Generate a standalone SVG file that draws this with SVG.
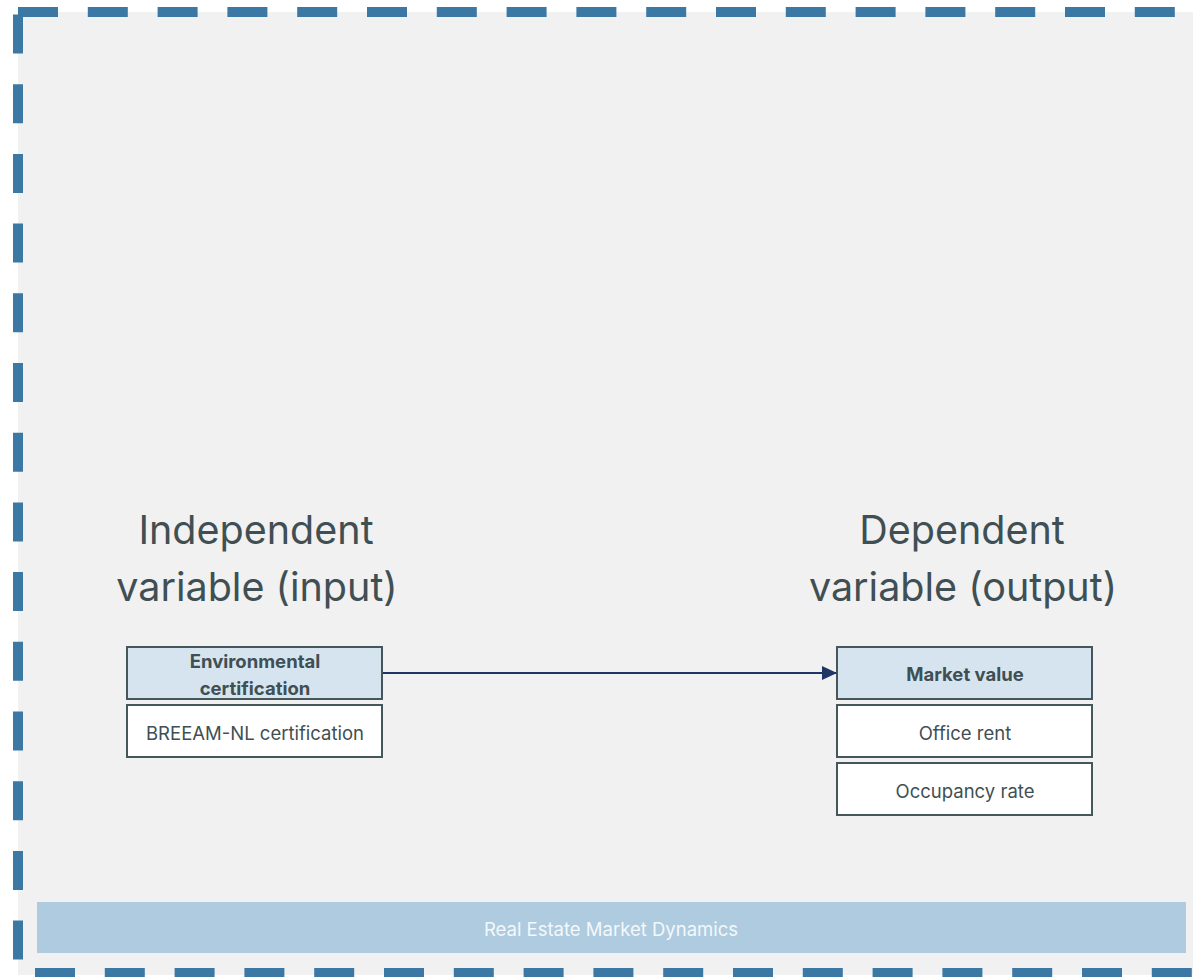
<svg xmlns="http://www.w3.org/2000/svg" width="1193" height="977" viewBox="0 0 1193 977">
  <style>
    .border { stroke: #3b78a4; stroke-width: 10; fill: none; stroke-dasharray: 40 29.8; }
    .title { font-family: Inter, "Noto Sans", sans-serif; font-size: 39.5px; fill: #3f4f53; text-anchor: middle; }
    .hdr { fill: #d6e4ef; stroke: #46575b; stroke-width: 2; }
    .sub { fill: #ffffff; stroke: #46575b; stroke-width: 2; }
    .bold { font-family: Inter, "Noto Sans", sans-serif; font-size: 18.5px; font-weight: 700; fill: #3f4f53; text-anchor: middle; }
    .norm { font-family: Inter, "Noto Sans", sans-serif; font-size: 18.5px; fill: #3f4f53; text-anchor: middle; }
    .edge { stroke: #1f3566; stroke-width: 2; fill: none; }
  </style>
  <defs>
    <marker id="arrow" markerWidth="15" markerHeight="14" refX="14" refY="7" orient="auto" markerUnits="userSpaceOnUse">
      <path d="M0,0 L15,7 L0,14 Z" fill="#1f3566"/>
    </marker>
  </defs>
  <rect x="0" y="0" width="1193" height="977" fill="#ffffff"/>
  <g id="container">
    <rect x="18" y="12" width="1180" height="963" fill="#f1f1f1"/>
    <line class="border" x1="18" y1="12" x2="1193" y2="12"/>
    <line class="border" x1="18" y1="14.5" x2="18" y2="965" style="stroke-dasharray: 39 30.7"/>
    <line class="border" x1="35" y1="973" x2="1193" y2="973"/>
  </g>
  <g id="market-dynamics">
    <rect x="37" y="902" width="1149" height="51" fill="#aecbdf"/>
    <text x="611" y="936" font-family="Inter, 'Noto Sans', sans-serif" font-size="18.5" fill="#f4f8fb" text-anchor="middle">Real Estate Market Dynamics</text>
  </g>
  <g id="title-independent">
    <text class="title" x="256" y="544">Independent</text>
    <text class="title" x="257" y="601">variable (input)</text>
  </g>
  <g id="title-dependent">
    <text class="title" x="962" y="544">Dependent</text>
    <text class="title" x="963" y="601">variable (output)</text>
  </g>
  <g id="environmental-certification">
    <rect class="hdr" x="127" y="647" width="255" height="52"/>
    <text class="bold" x="255" y="668">Environmental</text>
    <text class="bold" x="255" y="695">certification</text>
  </g>
  <g id="breeam">
    <rect class="sub" x="127" y="705" width="255" height="52"/>
    <text class="norm" x="255" y="740">BREEAM-NL certification</text>
  </g>
  <g id="market-value">
    <rect class="hdr" x="837" y="647" width="255" height="52"/>
    <text class="bold" x="965" y="681">Market value</text>
  </g>
  <g id="office-rent">
    <rect class="sub" x="837" y="705" width="255" height="52"/>
    <text class="norm" x="965" y="740">Office rent</text>
  </g>
  <g id="occupancy-rate">
    <rect class="sub" x="837" y="763" width="255" height="52"/>
    <text class="norm" x="965" y="798">Occupancy rate</text>
  </g>
  <g id="connectors">
    <line class="edge" x1="383" y1="673" x2="836" y2="673" marker-end="url(#arrow)"/>
  </g>
</svg>
